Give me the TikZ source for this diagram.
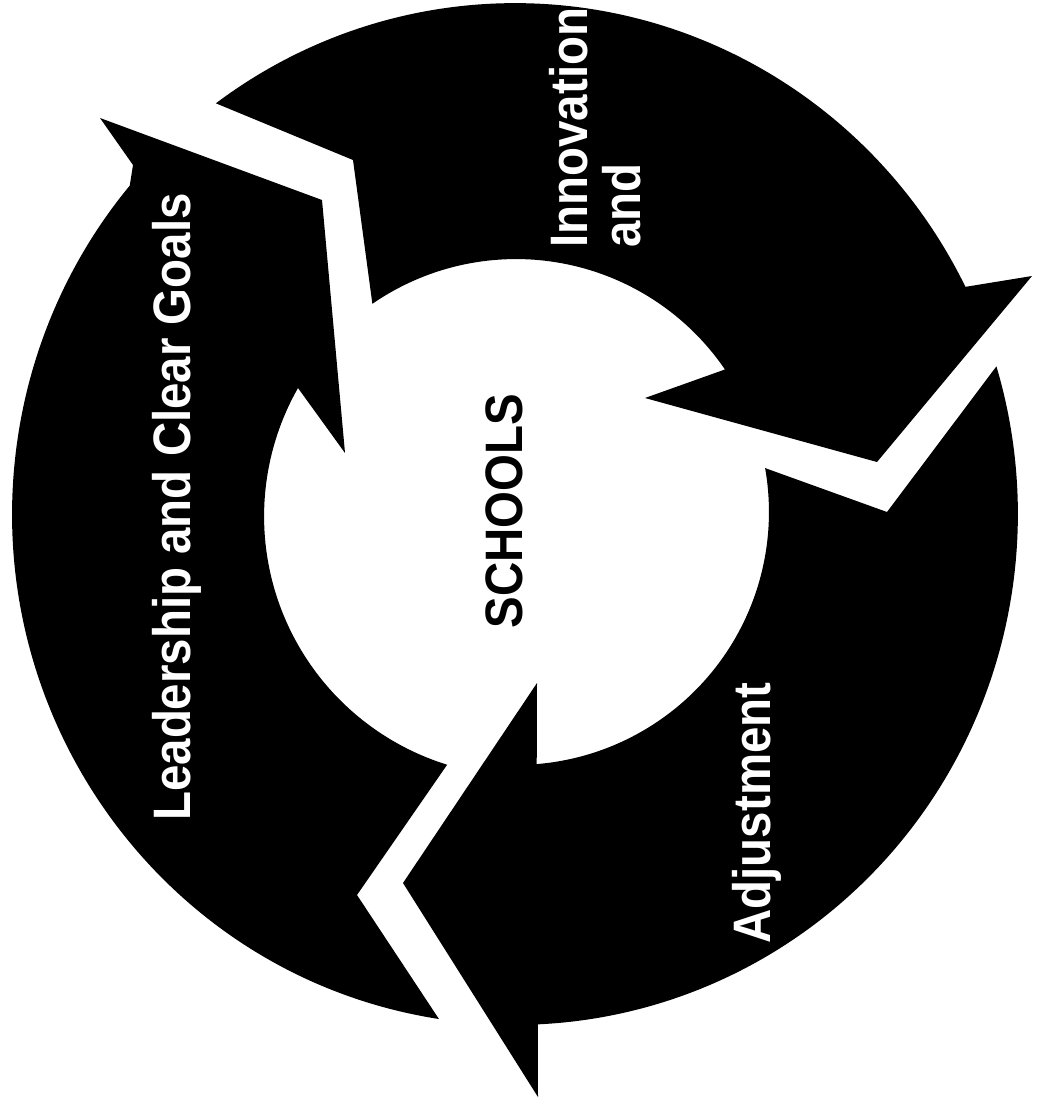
\documentclass[tikz,border=0pt]{standalone}
\usepackage{fontspec}
\usetikzlibrary{calc}
\newfontfamily\ringfont[FakeStretch=0.9]{Liberation Sans}
\definecolor{ringInk}{HTML}{000000}
\definecolor{paper}{HTML}{FFFFFF}
\tikzset{
  ringpart/.style={fill=ringInk},
  ringlabel/.style={rotate=90, inner sep=0pt, text=paper, font=\ringfont\bfseries\fontsize{30}{34}\selectfont},
  hublabel/.style={ringlabel, text=ringInk}
}
\begin{document}
\begin{tikzpicture}[x=0.02cm, y=0.02cm]
\fill[paper] (0,0) rectangle (1036,-1106);
\useasboundingbox (0,0) rectangle (1036,-1106);
\coordinate (oc) at (515,-514);
\coordinate (ic) at (516,-512);
% innovation arrow (top)
\fill[ringpart] ($(oc)+(126.5:10.06cm and 10.22cm)$) arc[start angle=126.5, end angle=26.4, x radius=10.06cm, y radius=10.22cm]
  -- (1032,-276) -- (877,-462) -- (645,-398)
  -- ($(ic)+(34.3:5.06cm)$) arc[start angle=34.3, end angle=124.6, radius=5.06cm]
  -- (353,-160) -- cycle;
% adjustment arrow (right)
\fill[ringpart] ($(oc)+(16.8:10.06cm and 10.22cm)$) arc[start angle=16.8, end angle=-87.4, x radius=10.06cm, y radius=10.22cm]
  -- (538,-1097) -- (403,-883) -- (537,-683)
  -- ($(ic)+(-85.3:5.06cm)$) arc[start angle=-85.3, end angle=10, radius=5.06cm]
  -- (887,-512) -- cycle;
% leadership arrow (left)
\fill[ringpart] ($(oc)+(261.3:10.06cm and 10.22cm)$) arc[start angle=261.3, end angle=140, x radius=10.06cm, y radius=10.22cm]
  -- (133,-165) -- (100,-118) -- (322,-200) -- (345,-453)
  -- (298,-388) arc[start angle=150.4, end angle=252.8, radius=5.2cm]
  -- (357,-895) -- cycle;
% labels
\node[ringlabel, anchor=base] (lead) at (190,-507) {Leadership and Clear Goals};
\node[ringlabel, anchor=base west] (innov) at (587,-248) {Innovation};
\node[ringlabel, anchor=base west] (innovand) at (640,-248) {and};
\node[ringlabel, anchor=base] (adjust) at (770,-813) {Adjustment};
\node[hublabel, anchor=base] (schools) at (522,-511) {SCHOOLS};
\end{tikzpicture}
\end{document}
